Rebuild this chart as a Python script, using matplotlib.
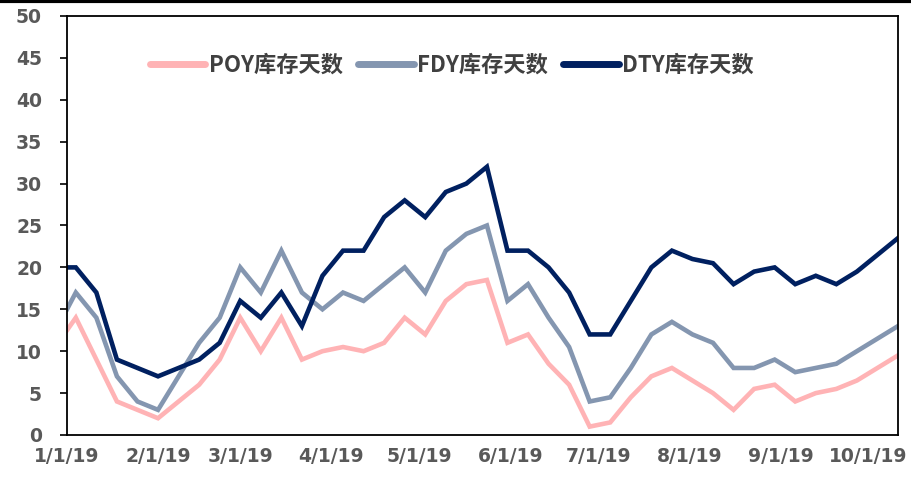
import matplotlib
matplotlib.use('Agg')
import matplotlib.pyplot as plt
import matplotlib.lines as mlines
import pandas as pd

# weekly dates (Fridays) plus the first day of the year
dates = ['2019-01-01', '2019-01-04', '2019-01-11', '2019-01-18', '2019-01-25',
         '2019-02-01', '2019-02-08', '2019-02-15', '2019-02-22', '2019-03-01',
         '2019-03-08', '2019-03-15', '2019-03-22', '2019-03-29', '2019-04-05',
         '2019-04-12', '2019-04-19', '2019-04-26', '2019-05-03', '2019-05-10',
         '2019-05-17', '2019-05-24', '2019-05-31', '2019-06-07', '2019-06-14',
         '2019-06-21', '2019-06-28', '2019-07-05', '2019-07-12', '2019-07-19',
         '2019-07-26', '2019-08-02', '2019-08-09', '2019-08-16', '2019-08-23',
         '2019-08-30', '2019-09-06', '2019-09-13', '2019-09-20', '2019-09-27',
         '2019-10-04', '2019-10-11']

poy = [12.5, 14, 9, 4, 3, 2, 4, 6, 9, 14, 10, 14, 9, 10, 10.5, 10, 11, 14, 12, 16,
       18, 18.5, 11, 12, 8.5, 6, 1, 1.5, 4.5, 7, 8, 6.5, 5, 3, 5.5, 6, 4, 5, 5.5,
       6.5, 8, 9.5]
fdy = [15, 17, 14, 7, 4, 3, 7, 11, 14, 20, 17, 22, 17, 15, 17, 16, 18, 20, 17, 22,
       24, 25, 16, 18, 14, 10.5, 4, 4.5, 8, 12, 13.5, 12, 11, 8, 8, 9, 7.5, 8, 8.5,
       10, 11.5, 13]
dty = [20, 20, 17, 9, 8, 7, 8, 9, 11, 16, 14, 17, 13, 19, 22, 22, 26, 28, 26, 29,
       30, 32, 22, 22, 20, 17, 12, 12, 16, 20, 22, 21, 20.5, 18, 19.5, 20, 18, 19,
       18, 19.5, 21.5, 23.5]

series_names = ['POY库存天数', 'FDY库存天数', 'DTY库存天数']
colors = ['#FFB3B5', '#8496B0', '#002060']

x = pd.to_datetime(dates)

fig = plt.figure(figsize=(9.12, 4.79), dpi=100)
ax = fig.add_axes([67 / 912, 1 - 435 / 479, (898 - 67) / 912, (435 - 16) / 479])

for vals, name, c in zip([poy, fdy, dty], series_names, colors):
    ax.plot(x, vals, color=c, lw=3.3, label=name, solid_joinstyle='miter')

ax.set_ylim(0, 50)
ax.set_yticks(range(0, 51, 5))
ax.set_xlim(x[0], x[-1])

month_ticks = pd.date_range('2019-01-01', '2019-10-01', freq='MS')
ax.set_xticks(month_ticks)
ax.set_xticklabels([f'{d.month}/{d.day}/{d.strftime("%y")}' for d in month_ticks])

for s in ax.spines.values():
    s.set_color('black')
    s.set_linewidth(1.3)

ax.tick_params(axis='y', direction='out', length=5, width=1.2, color='black',
               labelsize=13.5, labelcolor='#595959', pad=13)
ax.tick_params(axis='x', length=0, labelsize=13.5, labelcolor='#595959', pad=9)
for lab in ax.get_xticklabels() + ax.get_yticklabels():
    lab.set_fontweight('bold')
    lab.set_family('DejaVu Sans')

leg = ax.legend(loc='center', bbox_to_anchor=(0.463, 0.883), ncol=3, frameon=False,
                prop={'family': ['Noto Sans CJK SC', 'DejaVu Sans'], 'size': 16,
                      'weight': 'bold'},
                handlelength=2.5, handletextpad=0.15, columnspacing=0.7)
for t in leg.get_texts():
    t.set_color('#404040')
for h in leg.get_lines():
    h.set_linewidth(5)
    h.set_solid_capstyle('round')

# black border line at the very top of the image
fig.add_artist(mlines.Line2D([0, 1], [0.997, 0.997], color='black', lw=3,
                             transform=fig.transFigure))

fig.savefig('out.png', dpi=100)
